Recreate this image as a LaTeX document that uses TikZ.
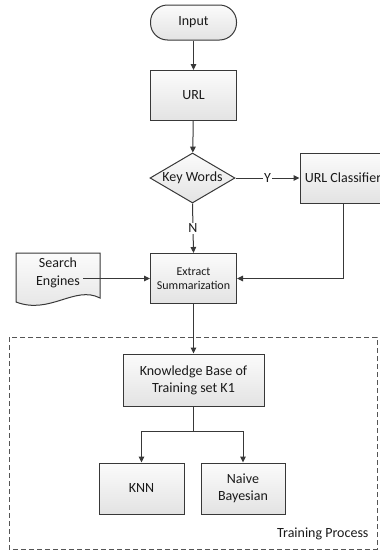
\documentclass[tikz,border=0pt]{standalone}
\usepackage{fontspec}
\setmainfont{Carlito}
\usepackage{xcolor}
\definecolor{edgegray}{HTML}{383838}
\definecolor{inkgray}{HTML}{1A1A1A}
\definecolor{dashgray}{HTML}{555555}
\usepackage{tikz}
\usetikzlibrary{arrows.meta, positioning, shapes.geometric, calc}

\tikzset{
  boxfill/.style={top color=gray!3, bottom color=gray!22},
  block/.style={draw=edgegray, line width=1pt, boxfill, align=center,
    minimum width=86pt, minimum height=50pt, inner sep=2pt, text=inkgray,
    font=\fontsize{14}{17}\selectfont},
  term/.style={block, rounded corners=17pt, minimum height=35pt},
  decide/.style={block, diamond, aspect=1.7, inner sep=0pt,
    minimum width=85pt, minimum height=50pt},
  arr/.style={draw=edgegray, line width=1pt, -{Triangle[length=6pt, width=5.5pt]}},
  wire/.style={draw=edgegray, line width=1pt},
  lab/.style={fill=white, inner sep=1pt, text=inkgray, font=\fontsize{14}{17}\selectfont}
}

\begin{document}
\begin{tikzpicture}[x=1pt, y=-1pt]
  \useasboundingbox (0,0) rectangle (380,552);

  % Training process frame
  \draw[dashgray, line width=0.9pt, dash pattern=on 5pt off 3pt] (9,337) rectangle (377,549);
  \node[anchor=base east, text=inkgray, font=\fontsize{14}{17}\selectfont] (trainlabel) at (372,537) {Training Process};

  % Upper flow
  \node[term] (input) at (193.5,22.5) {Input};
  \node[block] (url) at (193.5,95.5) {URL};
  \node[decide] (kw) at (192.5,178) {Key Words};
  \node[block] (cls) at (343,178) {URL Classifier};
  \node[block, font=\fontsize{12}{14}\selectfont] (ext) at (193.5,278.5) {Extract\\Summarization};

  % Search engines (document shape)
  \draw[edgegray, line width=1pt, boxfill] (16,253) -- (100,253) -- (100,298)
    .. controls (75,285) and (50,315) .. (16,302) -- cycle;
  \node[text=inkgray, align=center, font=\fontsize{14}{18}\selectfont] (search) at (58,273) {Search\\Engines};

  % Lower flow
  \node[block, minimum width=141pt, minimum height=52pt] (kb) at (193.5,380) {Knowledge Base of\\Training set K1};
  \node[block, minimum width=85pt, minimum height=51pt] (knn) at (141.5,488.5) {KNN};
  \node[block, minimum width=84pt, minimum height=51pt] (nb) at (243,488.5) {Naive\\Bayesian};

  % Connectors
  \draw[arr] (input) -- (url);
  \draw[arr] (url) -- (kw);
  \draw[arr] (kw.east) -- node[lab] {Y} (cls.west);
  \draw[arr] (kw.south) -- node[lab] {N} (ext.north);
  \draw[arr] (cls.south) |- (ext.east);
  \draw[arr] (search.east |- ext.west) -- (ext.west);
  \draw[arr] (ext.south) -- (kb.north);
  \draw[wire] (kb.south) -- ++(0,25) coordinate (fork);
  \draw[arr] (fork) -| (knn.north);
  \draw[arr] (fork) -| (nb.north);
\end{tikzpicture}
\end{document}
